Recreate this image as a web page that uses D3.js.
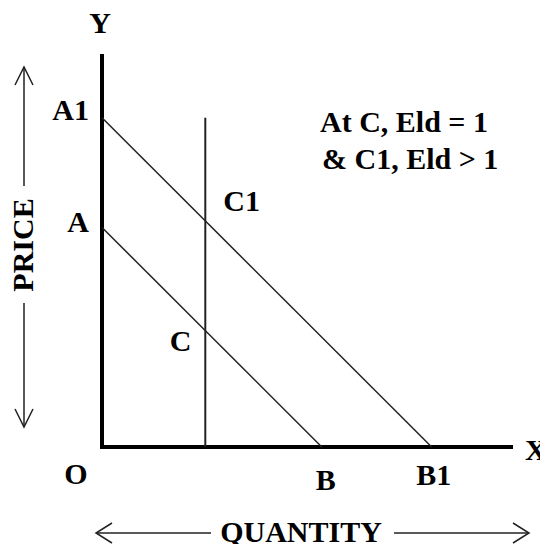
<!DOCTYPE html>
<html>
<head>
<meta charset="utf-8">
<script src="https://cdn.jsdelivr.net/npm/d3@7"></script>
<style>
  body { margin: 0; background: #fff; }
  text { font-family: "Liberation Serif", "Times New Roman", serif; font-weight: bold; font-size: 30px; fill: #000; }
</style>
</head>
<body>
<div id="chart"></div>
<script>
// demand curves: intercepts on price axis (a) and quantity axis (b)
var curveNames = ["A", "A1"];
var curveEnds = ["B", "B1"];
var priceIntercepts = [10, 15];
var quantityIntercepts = [10, 15];
var pointNames = ["C", "C1"];
// vertical line at a given quantity
var verticalQ = 4.7;
var verticalTop = 15;
var axisMax = { x: 18.7, y: 17.9 };
var noteLines = ["At C, Eld = 1", "& C1, Eld > 1"];

var width = 540, height = 544;

var svg = d3.select("#chart").append("svg")
    .attr("width", width)
    .attr("height", height);

var x = d3.scaleLinear().domain([0, axisMax.x]).range([102, 513]);
var y = d3.scaleLinear().domain([0, axisMax.y]).range([447, 54]);

// axes (thick lines)
svg.append("line")
    .attr("x1", x(0)).attr("y1", y(0) + 2)
    .attr("x2", x(0)).attr("y2", y(axisMax.y))
    .style("stroke", "#000").style("stroke-width", 4);
svg.append("line")
    .attr("x1", x(0) - 2).attr("y1", y(0))
    .attr("x2", x(axisMax.x)).attr("y2", y(0))
    .style("stroke", "#000").style("stroke-width", 4);

// demand lines
var curves = curveNames.map(function(n, i) {
    return { start: n, end: curveEnds[i], a: priceIntercepts[i], b: quantityIntercepts[i], pt: pointNames[i] };
});

var line = d3.line().x(function(d) { return x(d[0]); }).y(function(d) { return y(d[1]); });

svg.selectAll(".demand")
    .data(curves)
    .enter()
    .append("path")
    .attr("class", "demand")
    .attr("d", function(d) { return line([[0, d.a], [d.b, 0]]); })
    .style("stroke", "#222")
    .style("stroke-width", 1.5)
    .style("fill", "none");

// vertical line
svg.append("path")
    .attr("d", line([[verticalQ, 0], [verticalQ, verticalTop]]))
    .style("stroke", "#222")
    .style("stroke-width", 2)
    .style("fill", "none");

// labels on price axis
svg.selectAll(".plabel")
    .data(curves)
    .enter()
    .append("text")
    .attr("text-anchor", "end")
    .attr("x", x(0) - 13)
    .attr("y", function(d) { return y(d.a) + (d.start === "A" ? 5 : 2); })
    .text(function(d) { return d.start; });

// labels on quantity axis
svg.selectAll(".qlabel")
    .data(curves)
    .enter()
    .append("text")
    .attr("text-anchor", "middle")
    .attr("x", function(d) { return x(d.b) + (d.end === "B" ? 4 : 2); })
    .attr("y", function(d) { return y(0) + (d.end === "B" ? 43 : 38); })
    .text(function(d) { return d.end; });

// intersection labels
svg.selectAll(".ilabel")
    .data(curves)
    .enter()
    .append("text")
    .attr("text-anchor", function(d) { return d.pt === "C" ? "end" : "start"; })
    .attr("x", function(d) { return x(verticalQ) + (d.pt === "C" ? -14 : 18); })
    .attr("y", function(d) { return y(d.a - verticalQ * d.a / d.b) + (d.pt === "C" ? 20 : -10); })
    .text(function(d) { return d.pt; });

// origin and axis letters
svg.append("text").attr("text-anchor", "middle").attr("x", x(0) - 26).attr("y", y(0) + 37).text("O");
svg.append("text").attr("text-anchor", "middle").attr("x", x(0) - 2).attr("y", 33).text("Y");
svg.append("text").attr("text-anchor", "start").attr("x", 525).attr("y", 460).text("X");

// note
svg.selectAll(".note")
    .data(noteLines)
    .enter()
    .append("text")
    .attr("x", function(d, i) { return i === 0 ? 320 : 322; })
    .attr("y", function(d, i) { return 132 + i * 37; })
    .text(function(d) { return d; });

// arrows
function arrowHead(tx, ty, dir) {
    // open chevron arrowhead
    var pts;
    if (dir === "up") pts = [[tx - 9, ty + 18], [tx, ty], [tx + 9, ty + 18]];
    if (dir === "down") pts = [[tx - 9, ty - 18], [tx, ty], [tx + 9, ty - 18]];
    if (dir === "left") pts = [[tx + 16, ty - 10], [tx, ty], [tx + 16, ty + 10]];
    if (dir === "right") pts = [[tx - 16, ty - 10], [tx, ty], [tx - 16, ty + 10]];
    svg.append("path")
        .attr("d", d3.line()(pts))
        .style("stroke", "#222").style("stroke-width", 1.5).style("fill", "none");
}

svg.append("line").attr("x1", 24).attr("y1", 67).attr("x2", 24).attr("y2", 186)
    .style("stroke", "#222").style("stroke-width", 1.5);
svg.append("line").attr("x1", 24).attr("y1", 303).attr("x2", 24).attr("y2", 427)
    .style("stroke", "#222").style("stroke-width", 1.5);
arrowHead(24, 67, "up");
arrowHead(24, 427, "down");

svg.append("text")
    .attr("text-anchor", "middle")
    .attr("transform", "translate(33,245) rotate(-90)")
    .text("PRICE");

svg.append("line").attr("x1", 96).attr("y1", 533).attr("x2", 211).attr("y2", 533)
    .style("stroke", "#222").style("stroke-width", 1.5);
svg.append("line").attr("x1", 394).attr("y1", 533).attr("x2", 529).attr("y2", 533)
    .style("stroke", "#222").style("stroke-width", 1.5);
arrowHead(96, 533, "left");
arrowHead(529, 533, "right");

svg.append("text")
    .attr("text-anchor", "middle")
    .attr("x", 301)
    .attr("y", 542)
    .text("QUANTITY");
</script>
</body>
</html>
